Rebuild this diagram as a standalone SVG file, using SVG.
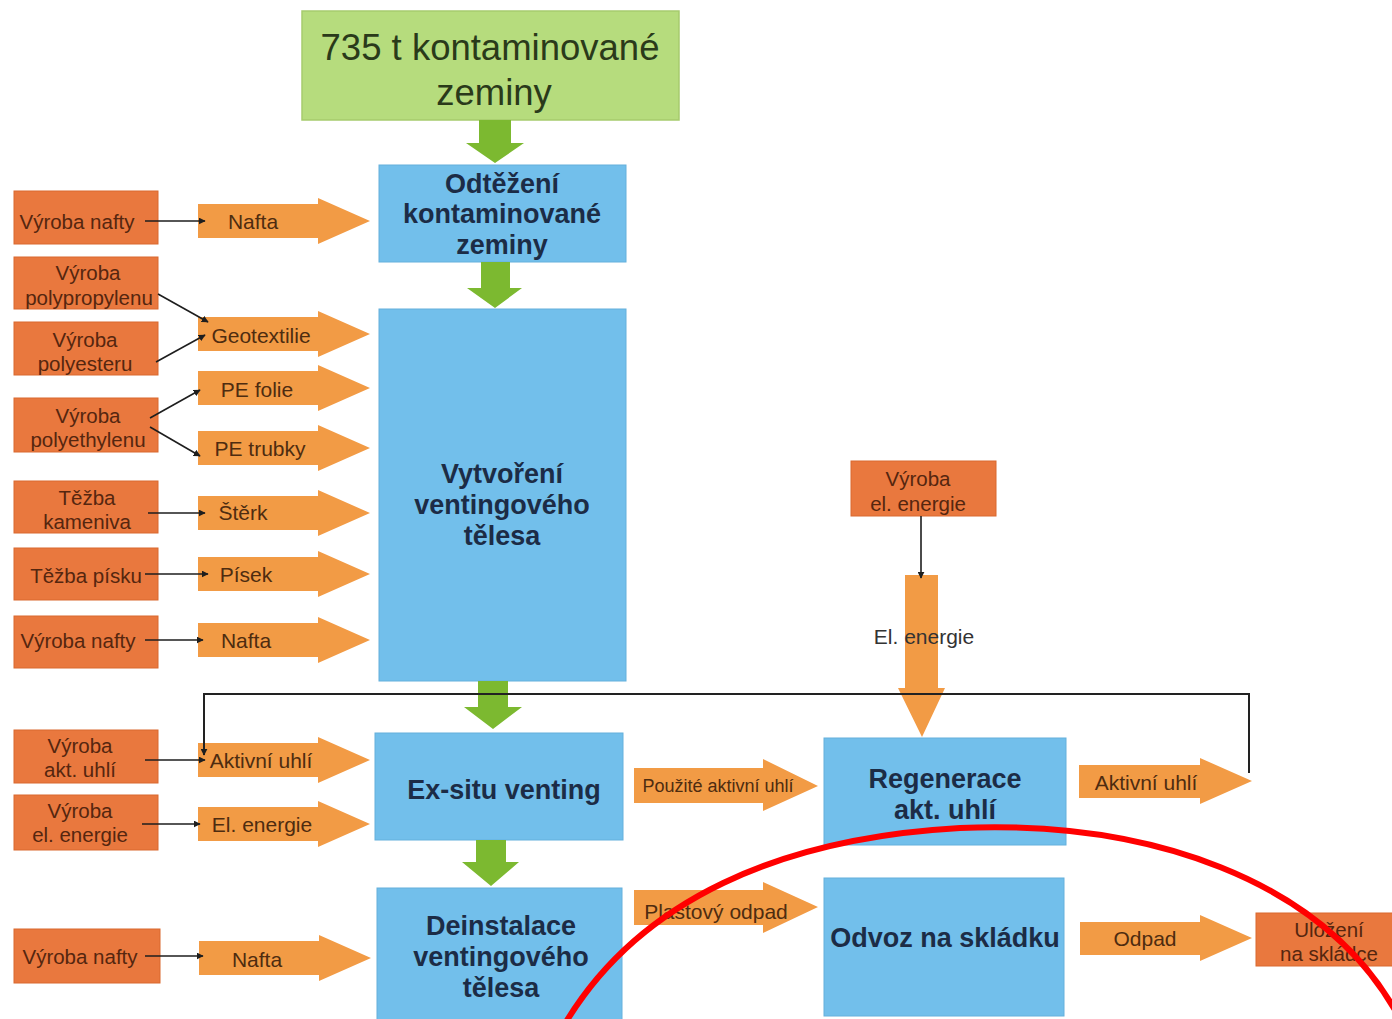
<svg xmlns="http://www.w3.org/2000/svg" xmlns:xlink="http://www.w3.org/1999/xlink" width="1392" height="1019" viewBox="0 0 1392 1019">
  <style>
    .src { fill: #e9783e; stroke: #d9692f; stroke-width: 1; }
    .src-t { font-family: "Liberation Sans", Arial, sans-serif; font-size: 20.5px; fill: #55260f; text-anchor: middle; dominant-baseline: central; }
    .proc { fill: #72bfeb; stroke: #65b0dc; stroke-width: 1; }
    .proc-t { font-family: "Liberation Sans", Arial, sans-serif; font-size: 27px; font-weight: bold; fill: #1c2c46; text-anchor: middle; dominant-baseline: central; }
    .flow { fill: #f29b45; }
    .flow-t { font-family: "Liberation Sans", Arial, sans-serif; font-size: 21px; fill: #4e2c10; text-anchor: middle; dominant-baseline: central; }
    .flow-t.small { font-size: 18px; }
    .main { fill: #7cb930; }
    .conn { stroke: #1e1e1e; stroke-width: 1.6; fill: none; }
    .loop { stroke: #222; stroke-width: 2; fill: none; }
  </style>
  <defs>
    <marker id="ah" viewBox="0 0 10 10" refX="9" refY="5" markerWidth="7" markerHeight="7" orient="auto" markerUnits="userSpaceOnUse">
      <path d="M0,0 L10,5 L0,10 Z" fill="#1e1e1e"/>
    </marker>
    <!-- input flow arrow: shaft + head, tip at (172,23) -->
    <path id="inArrow" d="M0,6 H120 V0 L172,23 L120,46 V40 H0 Z"/>
  </defs>

  <rect width="1392" height="1019" fill="#ffffff"/>

  <!-- main process chain -->
  <g id="n-start">
    <rect x="302" y="11" width="377" height="109" fill="#b6dc7d" stroke="#a6cb6d" stroke-width="1.5"/>
    <text x="490" y="47" font-family="Liberation Sans, Arial, sans-serif" font-size="36.5" fill="#2a3a1a" text-anchor="middle" dominant-baseline="central">735 t kontaminované</text>
    <text x="494" y="92" font-family="Liberation Sans, Arial, sans-serif" font-size="36.5" fill="#2a3a1a" text-anchor="middle" dominant-baseline="central">zeminy</text>
  </g>
  <g id="n-odtezeni">
    <rect class="proc" x="379" y="165" width="247" height="97"/>
    <text class="proc-t" x="502" y="184">Odtěžení</text>
    <text class="proc-t" x="502" y="214">kontaminované</text>
    <text class="proc-t" x="502" y="245">zeminy</text>
  </g>
  <g id="n-vytvoreni">
    <rect class="proc" x="379" y="309" width="247" height="372"/>
    <text class="proc-t" x="502" y="474">Vytvoření</text>
    <text class="proc-t" x="502" y="505">ventingového</text>
    <text class="proc-t" x="502" y="536">tělesa</text>
  </g>
  <g id="n-exsitu">
    <rect class="proc" x="375" y="733" width="248" height="107"/>
    <text class="proc-t" x="504" y="790">Ex-situ venting</text>
  </g>
  <g id="n-deinstalace">
    <rect class="proc" x="377" y="888" width="245" height="135"/>
    <text class="proc-t" x="501" y="926">Deinstalace</text>
    <text class="proc-t" x="501" y="957">ventingového</text>
    <text class="proc-t" x="501" y="988">tělesa</text>
  </g>
  <g id="n-regenerace">
    <rect class="proc" x="824" y="738" width="242" height="107"/>
    <text class="proc-t" x="945" y="779">Regenerace</text>
    <text class="proc-t" x="945" y="810">akt. uhlí</text>
  </g>
  <g id="n-odvoz">
    <rect class="proc" x="824" y="878" width="240" height="138"/>
    <text class="proc-t" x="945" y="938">Odvoz na skládku</text>
  </g>

  <!-- source processes -->
  <g id="s-nafta1"><rect class="src" x="14" y="191" width="144" height="53"/><text class="src-t" x="77" y="221">Výroba nafty</text></g>
  <g id="s-pp"><rect class="src" x="14" y="257" width="144" height="52"/><text class="src-t" x="88" y="272">Výroba</text><text class="src-t" x="89" y="297">polypropylenu</text></g>
  <g id="s-pes"><rect class="src" x="14" y="322" width="144" height="53"/><text class="src-t" x="85" y="339">Výroba</text><text class="src-t" x="85" y="363">polyesteru</text></g>
  <g id="s-pe"><rect class="src" x="14" y="398" width="144" height="54"/><text class="src-t" x="88" y="415">Výroba</text><text class="src-t" x="88" y="439">polyethylenu</text></g>
  <g id="s-kamenivo"><rect class="src" x="14" y="481" width="144" height="52"/><text class="src-t" x="87" y="497">Těžba</text><text class="src-t" x="87" y="521">kameniva</text></g>
  <g id="s-pisek"><rect class="src" x="14" y="548" width="144" height="52"/><text class="src-t" x="86" y="575">Těžba písku</text></g>
  <g id="s-nafta2"><rect class="src" x="14" y="616" width="144" height="52"/><text class="src-t" x="78" y="640">Výroba nafty</text></g>
  <g id="s-uhli"><rect class="src" x="14" y="730" width="144" height="53"/><text class="src-t" x="80" y="745">Výroba</text><text class="src-t" x="80" y="769">akt. uhlí</text></g>
  <g id="s-energie1"><rect class="src" x="14" y="795" width="144" height="55"/><text class="src-t" x="80" y="810">Výroba</text><text class="src-t" x="80" y="834">el. energie</text></g>
  <g id="s-nafta3"><rect class="src" x="14" y="929" width="146" height="54"/><text class="src-t" x="80" y="956">Výroba nafty</text></g>
  <g id="s-energie2"><rect class="src" x="851" y="461" width="145" height="55"/><text class="src-t" x="918" y="478">Výroba</text><text class="src-t" x="918" y="503">el. energie</text></g>
  <g id="s-skladka"><rect class="src" x="1256" y="913" width="140" height="53"/><text class="src-t" x="1329" y="929">Uložení</text><text class="src-t" x="1329" y="953">na skládce</text></g>

  <!-- material / energy flows -->
  <g id="flows">
    <use xlink:href="#inArrow" class="flow" x="198" y="198"/>
    <text class="flow-t" x="253" y="221">Nafta</text>
    <use xlink:href="#inArrow" class="flow" x="198" y="311"/>
    <text class="flow-t" x="261" y="335">Geotextilie</text>
    <use xlink:href="#inArrow" class="flow" x="198" y="365"/>
    <text class="flow-t" x="257" y="389">PE folie</text>
    <use xlink:href="#inArrow" class="flow" x="198" y="425"/>
    <text class="flow-t" x="260" y="448">PE trubky</text>
    <use xlink:href="#inArrow" class="flow" x="198" y="490"/>
    <text class="flow-t" x="243" y="512">Štěrk</text>
    <use xlink:href="#inArrow" class="flow" x="198" y="551"/>
    <text class="flow-t" x="246" y="574">Písek</text>
    <use xlink:href="#inArrow" class="flow" x="198" y="617"/>
    <text class="flow-t" x="246" y="640">Nafta</text>
    <use xlink:href="#inArrow" class="flow" x="198" y="737"/>
    <text class="flow-t" x="261" y="760">Aktivní uhlí</text>
    <use xlink:href="#inArrow" class="flow" x="198" y="801"/>
    <text class="flow-t" x="262" y="824">El. energie</text>
    <use xlink:href="#inArrow" class="flow" x="199" y="935"/>
    <text class="flow-t" x="257" y="959">Nafta</text>

    <path class="flow" d="M634,768 H763 V759 L818,786 L763,811 V803 H634 Z"/>
    <text class="flow-t small" x="718" y="786">Použité aktivní uhlí</text>
    <path class="flow" d="M634,890 H763 V882 L818,907 L763,933 V925 H634 Z"/>
    <text class="flow-t" x="716" y="911">Plastový odpad</text>
    <path class="flow" d="M1079,765 H1200 V758 L1252,781 L1200,804 V798 H1079 Z"/>
    <text class="flow-t" x="1146" y="782">Aktivní uhlí</text>
    <path class="flow" d="M1080,922 H1200 V915 L1252,938 L1200,961 V955 H1080 Z"/>
    <text class="flow-t" x="1145" y="938">Odpad</text>

    <path class="flow" d="M905,575 H938 V688 H945 L922,737 L898,688 H905 Z"/>
  </g>

  <!-- main chain arrows -->
  <g id="chain">
    <path class="main" d="M479,120 H511 V143 H524 L495,163 L466,143 H479 Z"/>
    <path class="main" d="M481,262 H510 V288 H522 L495,308 L467,288 H481 Z"/>
    <path class="main" d="M478,681 H508 V707 H522 L493,729 L464,707 H478 Z"/>
    <path class="main" d="M476,840 H506 V862 H519 L491,886 L462,862 H476 Z"/>
  </g>

  <!-- connectors -->
  <g id="connectors">
    <line class="conn" x1="145" y1="221" x2="205" y2="221" marker-end="url(#ah)"/>
    <line class="conn" x1="158" y1="294" x2="208" y2="322" marker-end="url(#ah)"/>
    <line class="conn" x1="156" y1="362" x2="205" y2="335" marker-end="url(#ah)"/>
    <line class="conn" x1="150" y1="418" x2="200" y2="390" marker-end="url(#ah)"/>
    <line class="conn" x1="150" y1="427" x2="200" y2="456" marker-end="url(#ah)"/>
    <line class="conn" x1="148" y1="513" x2="205" y2="513" marker-end="url(#ah)"/>
    <line class="conn" x1="145" y1="574" x2="208" y2="574" marker-end="url(#ah)"/>
    <line class="conn" x1="145" y1="640" x2="203" y2="640" marker-end="url(#ah)"/>
    <line class="conn" x1="145" y1="760" x2="205" y2="760" marker-end="url(#ah)"/>
    <line class="conn" x1="142" y1="824" x2="200" y2="824" marker-end="url(#ah)"/>
    <line class="conn" x1="145" y1="956" x2="203" y2="956" marker-end="url(#ah)"/>
    <line class="conn" x1="921" y1="516" x2="921" y2="578" marker-end="url(#ah)"/>
    <polyline class="loop" points="1249,773 1249,694 204,694 204,755" marker-end="url(#ah)"/>
  </g>

  <text x="924" y="636" font-family="Liberation Sans, Arial, sans-serif" font-size="21" fill="#333333" text-anchor="middle" dominant-baseline="central">El. energie</text>

  <!-- red highlight arc -->
  <path d="M566,1022 C640,900 780,838 960,828 C1150,820 1320,880 1395,1010" fill="none" stroke="#ff0000" stroke-width="6"/>
</svg>
